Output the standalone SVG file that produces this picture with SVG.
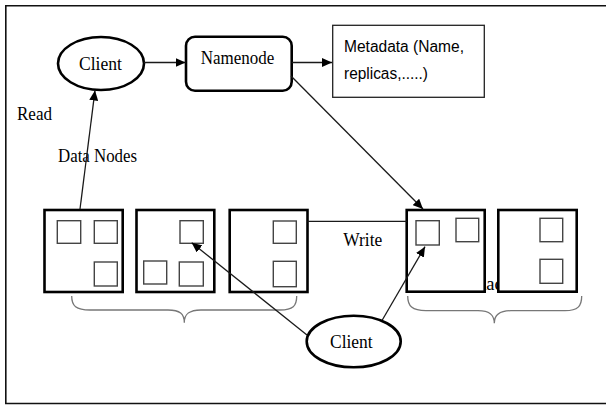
<svg xmlns="http://www.w3.org/2000/svg" width="606" height="405" viewBox="0 0 606 405">
  <defs>
    <marker id="arrow" markerUnits="userSpaceOnUse" markerWidth="11" markerHeight="9" refX="10" refY="4.5" orient="auto">
      <path d="M0,0 L10,4.5 L0,9 Z" fill="#000"/>
    </marker>
  </defs>
  <style>
    .serif { font-family: "Liberation Serif", "Times New Roman", serif; font-size: 18.5px; fill: #000; }
    .sans { font-family: "Liberation Sans", Arial, sans-serif; font-size: 16px; fill: #000; }
    .node { fill: #fff; stroke: #000; stroke-width: 2.6; }
    .block { fill: #fff; stroke: #444; stroke-width: 1.4; }
    .conn { fill: none; stroke: #1a1a1a; stroke-width: 1.3; }
    .brace { fill: none; stroke: #777; stroke-width: 1.3; }
  </style>
  <rect width="606" height="405" fill="#fff"/>

  <!-- frame: top, left and bottom edges only -->
  <path d="M606,5.8 H5.8 V403.5 H606" fill="none" stroke="#111" stroke-width="1.6"/>

  <!-- rack label, partly hidden behind the data node boxes -->
  <text class="serif" x="474" y="290" font-size="17">Rack</text>

  <!-- top client -->
  <g id="client-top">
    <ellipse class="node" cx="101" cy="63.5" rx="43" ry="26.5"/>
    <text class="serif" x="79" y="69.5" font-size="19" textLength="43" lengthAdjust="spacingAndGlyphs">Client</text>
  </g>

  <!-- namenode -->
  <g id="namenode">
    <rect class="node" x="186" y="36.7" width="105.7" height="54" rx="9"/>
    <text class="serif" x="200.7" y="64" textLength="73.6" lengthAdjust="spacingAndGlyphs">Namenode</text>
  </g>

  <!-- metadata -->
  <g id="metadata">
    <rect x="332.7" y="25.3" width="151.6" height="72" fill="#fff" stroke="#222" stroke-width="1.3"/>
    <text class="sans" x="344" y="51.7" textLength="120" lengthAdjust="spacingAndGlyphs">Metadata (Name,</text>
    <text class="sans" x="344" y="79.3" textLength="84" lengthAdjust="spacingAndGlyphs">replicas,.....)</text>
  </g>

  <!-- labels -->
  <g id="labels">
    <text class="serif" x="17" y="120" textLength="35" lengthAdjust="spacingAndGlyphs">Read</text>
    <text class="serif" x="58" y="161.7" textLength="79" lengthAdjust="spacingAndGlyphs">Data Nodes</text>
    <text class="serif" x="343.3" y="245.7" textLength="39" lengthAdjust="spacingAndGlyphs">Write</text>
  </g>

  <!-- data nodes, first rack -->
  <g id="datanode-1">
    <rect class="node" x="44.5" y="210" width="78.2" height="82" stroke-width="3"/>
    <rect class="block" x="57.3" y="220.7" width="23.4" height="22.6"/>
    <rect class="block" x="94.3" y="220.7" width="23" height="22.6"/>
    <rect class="block" x="94.3" y="262" width="23" height="24"/>
  </g>
  <g id="datanode-2">
    <rect class="node" x="136.5" y="210" width="77.8" height="82" stroke-width="3"/>
    <rect class="block" x="180" y="220.7" width="23.3" height="22.6"/>
    <rect class="block" x="143.7" y="261" width="23" height="23"/>
    <rect class="block" x="179.3" y="262" width="24" height="24"/>
  </g>
  <g id="datanode-3">
    <rect class="node" x="229.7" y="210" width="77.8" height="82" stroke-width="3"/>
    <rect class="block" x="273.3" y="221" width="23" height="22.3"/>
    <rect class="block" x="273.3" y="261.3" width="23" height="25.4"/>
  </g>

  <!-- data nodes, second rack -->
  <g id="datanode-4">
    <rect class="node" x="406.7" y="210" width="78" height="81.7" stroke-width="3"/>
    <rect class="block" x="416" y="220.7" width="23.3" height="24.3"/>
    <rect class="block" x="456" y="218.3" width="22.7" height="23.4"/>
  </g>
  <g id="datanode-5">
    <rect class="node" x="498.3" y="210" width="78.4" height="81.7" stroke-width="3"/>
    <rect class="block" x="540" y="218.3" width="22.7" height="23.4"/>
    <rect class="block" x="540" y="259.3" width="22.7" height="24"/>
  </g>

  <!-- rack braces -->
  <g id="braces">
    <path class="brace" d="M71.7,296 C71.7,306 76,310 90,310 L168,310 C180,310 184.3,314 184.3,322.7 C184.3,314 189,310 201,310 L280,310 C293,310 296.7,306 296.7,296"/>
    <path class="brace" d="M407.7,296 C407.7,306 412,310.7 426,310.7 L478,310.7 C490,310.7 494.3,315 494.3,323.3 C494.3,315 499,310.7 511,310.7 L565,310.7 C578,310.7 581.7,306 581.7,296"/>
  </g>

  <!-- connectors, drawn over the data node boxes -->
  <g id="connectors">
    <line class="conn" x1="144" y1="62.5" x2="185.5" y2="62.5" marker-end="url(#arrow)"/>
    <line class="conn" x1="291.7" y1="62.5" x2="332" y2="62.5" marker-end="url(#arrow)"/>
    <line class="conn" x1="80" y1="209" x2="95" y2="90.5" marker-end="url(#arrow)"/>
    <line class="conn" x1="291" y1="76" x2="423" y2="209" marker-end="url(#arrow)"/>
    <line class="conn" x1="307.5" y1="221.3" x2="406.7" y2="221.3"/>
    <line class="conn" x1="307" y1="335" x2="191.7" y2="242.7" marker-end="url(#arrow)"/>
    <line class="conn" x1="381.7" y1="321" x2="425" y2="246.7" marker-end="url(#arrow)"/>
  </g>

  <!-- bottom client -->
  <g id="client-bottom">
    <ellipse class="node" cx="353.7" cy="341.5" rx="47" ry="25.8"/>
    <text class="serif" x="330" y="347.7" font-size="19" textLength="42.7" lengthAdjust="spacingAndGlyphs">Client</text>
  </g>
</svg>
